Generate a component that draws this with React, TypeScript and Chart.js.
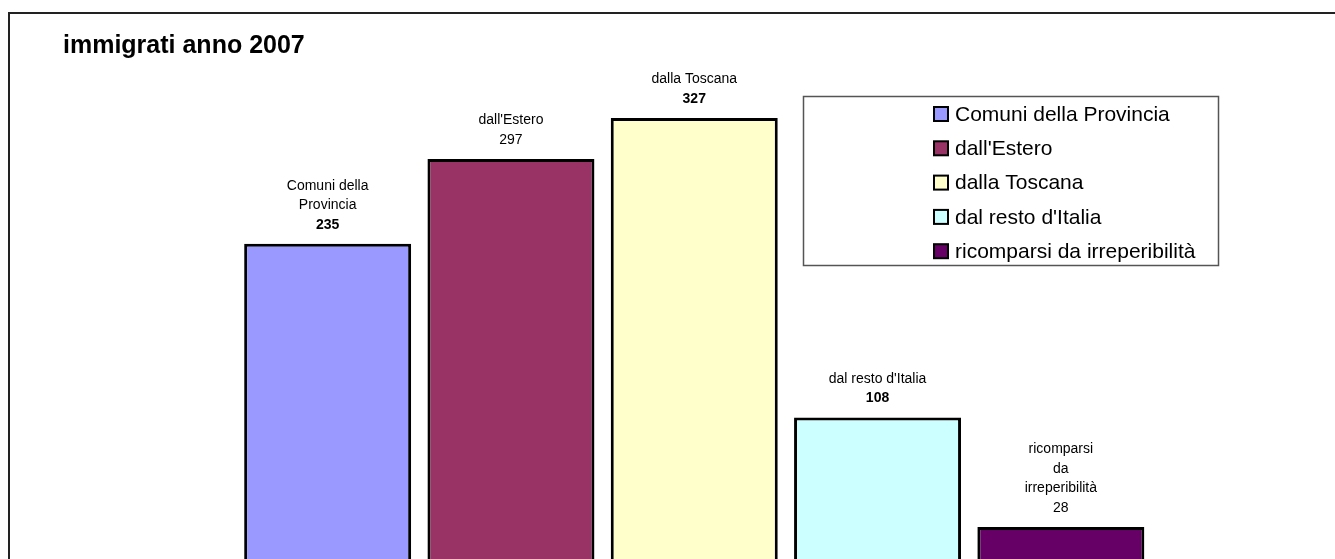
import React, { useEffect, useRef } from "react";
import { Chart, registerables } from "chart.js";

Chart.register(...registerables);

const title = "immigrati anno 2007";
const seriesNames = [
  "Comuni della Provincia",
  "dall'Estero",
  "dalla Toscana",
  "dal resto d'Italia",
  "ricomparsi da irreperibilità",
];
const labelLines = [
  ["Comuni della", "Provincia"],
  ["dall'Estero"],
  ["dalla Toscana"],
  ["dal resto d'Italia"],
  ["ricomparsi", "da", "irreperibilità"],
];
const values = [235, 297, 327, 108, 28];
const valueBold = [true, false, true, true, false];
const colors = ["#9999FF", "#993366", "#FFFFCC", "#CCFFFF", "#660066"];
const yMax = 350;

const FONT = "'Liberation Sans', Arial, Helvetica, sans-serif";

const overlayPlugin = {
  id: "overlay",
  afterDatasetsDraw(chart: any) {
    const ctx = chart.ctx;
    ctx.save();
    ctx.textAlign = "center";
    ctx.textBaseline = "middle";
    ctx.fillStyle = "#000";
    chart.data.datasets.forEach((ds: any, i: number) => {
      const meta = chart.getDatasetMeta(i);
      const el = meta.data[0];
      if (!el) return;
      const x = el.x;
      const top = el.y;
      const valY = top - 19;
      ctx.font = (valueBold[i] ? "bold " : "") + "14px " + FONT;
      ctx.fillText(String(values[i]), x, valY);
      ctx.font = "14px " + FONT;
      const lines = labelLines[i];
      for (let k = 0; k < lines.length; k++) {
        const y = valY - 19.5 * (lines.length - k);
        ctx.fillText(lines[k], x, y);
      }
    });
    ctx.restore();
  },
  afterDraw(chart: any) {
    const ctx = chart.ctx;
    ctx.save();
    // title
    ctx.fillStyle = "#000";
    ctx.textAlign = "left";
    ctx.textBaseline = "alphabetic";
    ctx.font = "bold 25px " + FONT;
    ctx.fillText(title, 53, 39);
    // legend box
    const bx = 793.5, by = 82.5, bw = 415, bh = 169;
    ctx.fillStyle = "#fff";
    ctx.fillRect(bx, by, bw, bh);
    ctx.strokeStyle = "#555";
    ctx.lineWidth = 1.5;
    ctx.strokeRect(bx, by, bw, bh);
    ctx.font = "21px " + FONT;
    ctx.textBaseline = "middle";
    for (let i = 0; i < seriesNames.length; i++) {
      const cy = 100 + i * 34.3;
      const sx = 924, sz = 14;
      ctx.fillStyle = colors[i];
      ctx.fillRect(sx, cy - sz / 2, sz, sz);
      ctx.strokeStyle = "#000";
      ctx.lineWidth = 2;
      ctx.strokeRect(sx, cy - sz / 2, sz, sz);
      ctx.fillStyle = "#000";
      ctx.fillText(seriesNames[i], 945, cy + 1);
    }
    ctx.restore();
  },
};

export default function App() {
  const ref = useRef<HTMLCanvasElement>(null);
  useEffect(() => {
    if (!ref.current) return;
    const chart = new Chart(ref.current, {
      type: "bar",
      data: {
        labels: ["2007"],
        datasets: seriesNames.map((name, i) => ({
          label: name,
          data: [values[i]],
          backgroundColor: colors[i],
          borderColor: "#000",
          borderWidth: 3,
          borderSkipped: false,
          categoryPercentage: 1,
          barPercentage: 0.911,
        })),
      },
      options: {
        animation: false,
        responsive: false,
        devicePixelRatio: 1,
        layout: { padding: { left: 226, right: 257.5, top: 72.5, bottom: 68.7 } },
        plugins: {
          legend: { display: false },
          title: { display: false },
          tooltip: { enabled: false },
        },
        scales: {
          x: { display: false, offset: true },
          y: { display: false, min: 0, max: yMax },
        },
      },
      plugins: [overlayPlugin],
    });
    return () => chart.destroy();
  }, []);
  return (
    <div style={{ position: "fixed", left: 0, top: 0, width: 1335, height: 559, overflow: "hidden", background: "#fff" }}>
      <div style={{ position: "absolute", left: 8, top: 12, border: "2px solid #222", width: 1400, height: 620 }}>
        <canvas ref={ref} width={1400} height={620} style={{ display: "block", width: 1400, height: 620 }} />
      </div>
    </div>
  );
}
